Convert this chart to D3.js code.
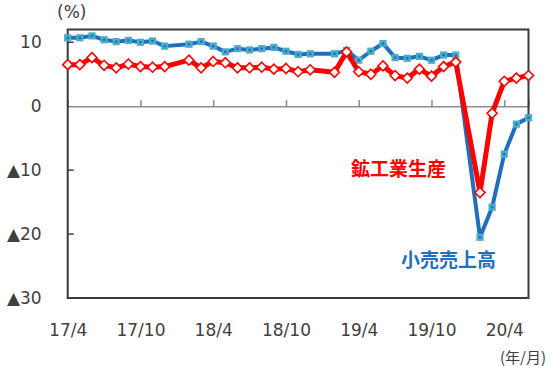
<!DOCTYPE html>
<html><head><meta charset="utf-8">
<script src="https://cdn.jsdelivr.net/npm/d3@7"></script>
<style>body{margin:0;background:#fff}svg{display:block}</style>
</head><body><svg id="c" width="550" height="366"></svg>
<script>
// categories (Jan data is combined into Feb, so January is absent)
const months = [
  "2017/4","2017/5","2017/6","2017/7","2017/8","2017/9","2017/10","2017/11","2017/12",
  "2018/2","2018/3","2018/4","2018/5","2018/6","2018/7","2018/8","2018/9","2018/10","2018/11","2018/12",
  "2019/2","2019/3","2019/4","2019/5","2019/6","2019/7","2019/8","2019/9","2019/10","2019/11","2019/12",
  "2020/2","2020/3","2020/4","2020/5","2020/6"
];
const industrial = [6.5,6.5,7.6,6.4,6.0,6.6,6.2,6.1,6.2,
  7.2,6.0,7.0,6.8,6.0,6.0,6.1,5.8,5.9,5.4,5.7,
  5.3,8.5,5.4,5.0,6.3,4.8,4.4,5.8,4.7,6.2,6.9,
  -13.5,-1.1,3.9,4.4,4.8];
const retail = [10.7,10.7,11.0,10.4,10.1,10.3,10.0,10.2,9.4,
  9.7,10.1,9.4,8.5,9.0,8.8,9.0,9.2,8.6,8.1,8.2,
  8.2,8.7,7.2,8.6,9.8,7.6,7.5,7.8,7.2,8.0,8.0,
  -20.5,-15.8,-7.5,-2.8,-1.8];
const xTickMonths = ["2017/4","2017/10","2018/4","2018/10","2019/4","2019/10","2020/4"];
const xTickLabels = ["17/4","17/10","18/4","18/10","19/4","19/10","20/4"];
const yTicks = [10,0,-10,-20,-30];
const seriesNames = ["鉱工業生産","小売売上高"];

const mIndex = s => { const [y,m] = s.split("/").map(Number); return (y-2017)*12 + (m-4); };
const svg = d3.select("#c");
const L = 67.7, R = 528.5, T = 29.5, B = 298;
const x = d3.scaleLinear().domain([0, 38]).range([L, R]);
const y = d3.scaleLinear().domain([-30, 12]).range([B, T]);
const numFont = "'DejaVu Sans', sans-serif";
const txt = "#404040";

// y axis (labels + inward ticks)
const yAx = svg.append("g").attr("transform", `translate(${L},0)`)
  .call(d3.axisLeft(y).tickValues(yTicks).tickSize(0).tickPadding(26)
    .tickFormat(v => v < 0 ? "▲" + Math.abs(v) : String(v)));
yAx.select(".domain").remove();
yAx.selectAll("text").attr("font-family", numFont).attr("font-size", 17).attr("fill", txt);
svg.append("g").selectAll("line").data([10,-10,-20]).join("line")
  .attr("x1", L).attr("x2", L + 6).attr("y1", d => y(d)).attr("y2", d => y(d))
  .attr("stroke", "#404040").attr("stroke-width", 1.5);

// zero line with upward ticks
const zAx = svg.append("g").attr("transform", `translate(0,${y(0)})`)
  .call(d3.axisTop(x).tickValues(xTickMonths.slice(1).map(mIndex)).tickSize(6).tickFormat(""));
zAx.select(".domain").attr("stroke", "#8c8c8c").attr("stroke-width", 1.6);
zAx.selectAll(".tick line").attr("stroke", "#8c8c8c").attr("stroke-width", 1.6);

// x labels
const xAx = svg.append("g").attr("transform", `translate(0,${B})`)
  .call(d3.axisBottom(x).tickValues(xTickMonths.map(mIndex)).tickSize(0).tickPadding(26)
    .tickFormat((d,i) => xTickLabels[i]));
xAx.select(".domain").remove();
xAx.selectAll("text").attr("font-family", numFont).attr("font-size", 17).attr("fill", txt);

// plot border
svg.append("rect").attr("x", L).attr("y", T).attr("width", R - L).attr("height", B - T)
  .attr("fill", "none").attr("stroke", "#3a3a3a").attr("stroke-width", 2);

// unit labels
svg.append("text").attr("x", 57).attr("y", 12).attr("dominant-baseline", "central")
  .attr("font-family", numFont).attr("font-size", 17).attr("fill", txt).text("(%)");
svg.append("text").attr("x", 546).attr("y", 356).attr("dominant-baseline", "central")
  .attr("text-anchor", "end").attr("font-family", "'Noto Sans CJK JP', sans-serif")
  .attr("font-size", 15).attr("fill", txt).text("(年/月)");

const line = d3.line().x(d => x(mIndex(d.m))).y(d => y(d.v));
const retailData = months.map((m, i) => ({m, v: retail[i]}));
const indData = months.map((m, i) => ({m, v: industrial[i]}));

// retail (blue)
svg.append("path").datum(retailData).attr("d", line).attr("fill", "none")
  .attr("stroke", "#1f6fbe").attr("stroke-width", 4).attr("stroke-linejoin", "round");
const bm = svg.append("g").selectAll("g").data(retailData).join("g")
  .attr("transform", d => `translate(${x(mIndex(d.m))},${y(d.v)})`);
bm.append("rect").attr("x", -3.6).attr("y", -3.6).attr("width", 7.2).attr("height", 7.2).attr("fill", "#4bacc6");
bm.append("rect").attr("x", -1.2).attr("y", -1.2).attr("width", 2.4).attr("height", 2.4).attr("fill", "#1f6fbe");

// industrial (red)
svg.append("path").datum(indData).attr("d", line).attr("fill", "none")
  .attr("stroke", "#ff0000").attr("stroke-width", 5).attr("stroke-linejoin", "round");
svg.append("g").selectAll("path").data(indData).join("path")
  .attr("transform", d => `translate(${x(mIndex(d.m))},${y(d.v)})`)
  .attr("d", "M0,-5L5,0L0,5L-5,0Z").attr("fill", "#fff").attr("stroke", "#ff0000").attr("stroke-width", 1.6);

// series labels
svg.append("text").attr("x", 351).attr("y", 167.5).attr("dominant-baseline", "central")
  .attr("font-family", "'Noto Sans CJK JP', sans-serif").attr("font-weight", "bold")
  .attr("font-size", 19).attr("fill", "#ff0000").text(seriesNames[0]);
svg.append("text").attr("x", 401).attr("y", 258).attr("dominant-baseline", "central")
  .attr("font-family", "'Noto Sans CJK JP', sans-serif").attr("font-weight", "bold")
  .attr("font-size", 19).attr("fill", "#1f6fbe").text(seriesNames[1]);
</script></body></html>
